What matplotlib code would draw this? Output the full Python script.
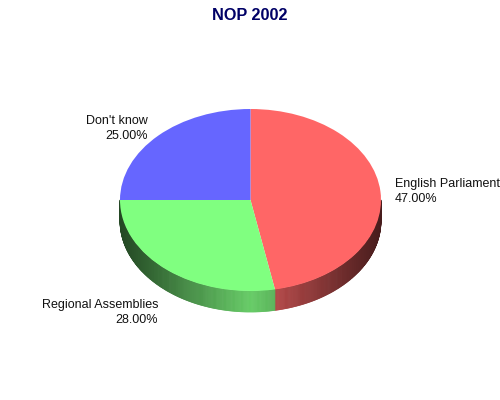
import numpy as np
import matplotlib
matplotlib.use("Agg")
import matplotlib.pyplot as plt
from matplotlib.collections import PolyCollection

plt.rcParams['font.family'] = ['Liberation Sans', 'DejaVu Sans']

labels = ["English Parliament", "Regional Assemblies", "Don't know"]
values = [47, 28, 25]
colors = ["#ff6666", "#80ff80", "#6666ff"]

W, H = 500, 400
cx, cy = 250.5, 200
rx, ry = 130.5, 91
depth = 21

fig = plt.figure(figsize=(W / 100, H / 100), dpi=100)
ax = fig.add_axes([0, 0, 1, 1])
ax.set_xlim(0, W)
ax.set_ylim(H, 0)
ax.axis("off")

# side wall, only the front half is seen
polys = []
cols = []
start = 90.0
edges = [start]
for v in values:
    edges.append(edges[-1] - v * 3.6)
for i in range(len(values)):
    base = np.array(matplotlib.colors.to_rgb(colors[i]))
    hi = max(edges[i + 1], -180)
    lo = min(edges[i], 0)
    if hi >= lo:
        continue
    angs = np.linspace(lo, hi, int(lo - hi) * 2 + 2)
    for a, b in zip(angs[:-1], angs[1:]):
        xa = cx + rx * np.cos(np.radians(a))
        xb = cx + rx * np.cos(np.radians(b))
        ya = cy - ry * np.sin(np.radians(a))
        yb = cy - ry * np.sin(np.radians(b))
        polys.append([(xa, ya), (xb, yb), (xb, yb + depth), (xa, ya + depth)])
        # brightest near the middle, dark at both ends
        t = abs((xa + xb) / 2 - cx) / rx
        cols.append(base * (0.8 - 0.52 * t))
ax.add_collection(PolyCollection(polys, facecolors=cols, edgecolors=cols, linewidths=0.5))

# top of the pie
top = fig.add_axes([(cx - rx) / W, 1 - (cy + ry) / H, 2 * rx / W, 2 * ry / H])
top.pie(values, colors=colors, startangle=90, counterclock=False)
top.set_aspect("auto")
top.set_xlim(-1, 1)
top.set_ylim(-1, 1)
top.patch.set_alpha(0)

ax.text(395, 191.5, labels[0] + "\n%.2f%%" % values[0], fontsize=9, ha="left", va="center",
        color="#111111", linespacing=1.25, multialignment="left")
ax.text(158, 312.5, labels[1] + "\n%.2f%%" % values[1], fontsize=9, ha="right", va="center",
        color="#111111", linespacing=1.25, multialignment="right")
ax.text(148, 128.5, labels[2] + "\n%.2f%%" % values[2], fontsize=9, ha="right", va="center",
        color="#111111", linespacing=1.25, multialignment="right")
ax.text(250, 15, "NOP 2002", fontsize=11.7, fontweight="bold", ha="center", va="center", color="#000066")

fig.savefig("out.png", dpi=100)
